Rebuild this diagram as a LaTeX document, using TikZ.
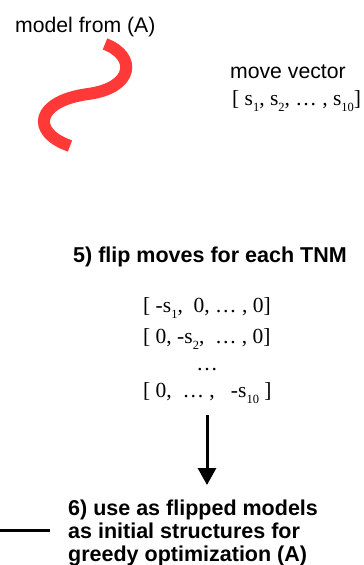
\documentclass[tikz,border=0pt]{standalone}
\usepackage{fontspec}
\setmainfont{Liberation Serif}
\setsansfont{Liberation Sans}
\usetikzlibrary{arrows.meta}
\newcommand\lsub[1]{\raisebox{-6pt}{\fontsize{12.5}{12.5}\selectfont #1}}
\tikzset{
  lbl/.style={inner sep=0pt, anchor=base west, font=\sffamily\fontsize{21.2}{24}\selectfont},
  bold/.style={inner sep=0pt, anchor=base west, font=\sffamily\bfseries\fontsize{21.5}{24}\selectfont},
  vec/.style={inner sep=0pt, anchor=base west, font=\rmfamily\fontsize{21.5}{24}\selectfont},
  flow/.style={line width=3pt, -{Triangle[width=18pt,length=17pt]}},
  redmodel/.style={line width=12pt, draw={rgb,255:red,255;green,56;blue,56}, line cap=butt},
}
\begin{document}
\begin{tikzpicture}[x=1pt,y=1pt]
\useasboundingbox (0,0) rectangle (364,-565);
\node[lbl] (model) at (15,-32) {model from (A)};
\draw[redmodel] (105,-44) .. controls (137,-56) and (134,-88) .. (88,-94)
  .. controls (36,-101) and (30,-132) .. (70,-146);
\node[lbl] (mv) at (230,-78) {move vector};
\node[vec] (v) at (232,-105) {[ s\lsub{1}, s\lsub{2}, \dots\ , s\lsub{10}]};
\node[bold] (t5) at (73,-262) {5) flip moves for each TNM};
\node[vec] (m1) at (143,-312) {[ -s\lsub{1},\ \ 0, \dots\ , 0]};
\node[vec] (m2) at (143,-343) {[ 0, -s\lsub{2},\ \ \dots\ , 0]};
\node[vec, anchor=base] (m3) at (207,-370) {\dots};
\node[vec] (m4) at (143,-397) {[ 0,\ \ \dots\ ,\ \ \ -s\lsub{10} ]};
\coordinate (a1) at (207,-415);
\coordinate (a2) at (207,-485);
\draw[flow] (a1) -- (a2);
\node[bold] (t6a) at (68,-515) {6) use as flipped models};
\node[bold] (t6b) at (68,-538) {as initial structures for};
\node[bold] (t6c) at (68,-561) {greedy optimization (A)};
\coordinate (l1) at (0,-530);
\coordinate (l2) at (50,-530);
\draw[line width=3pt] (l1) -- (l2);
\end{tikzpicture}
\end{document}
